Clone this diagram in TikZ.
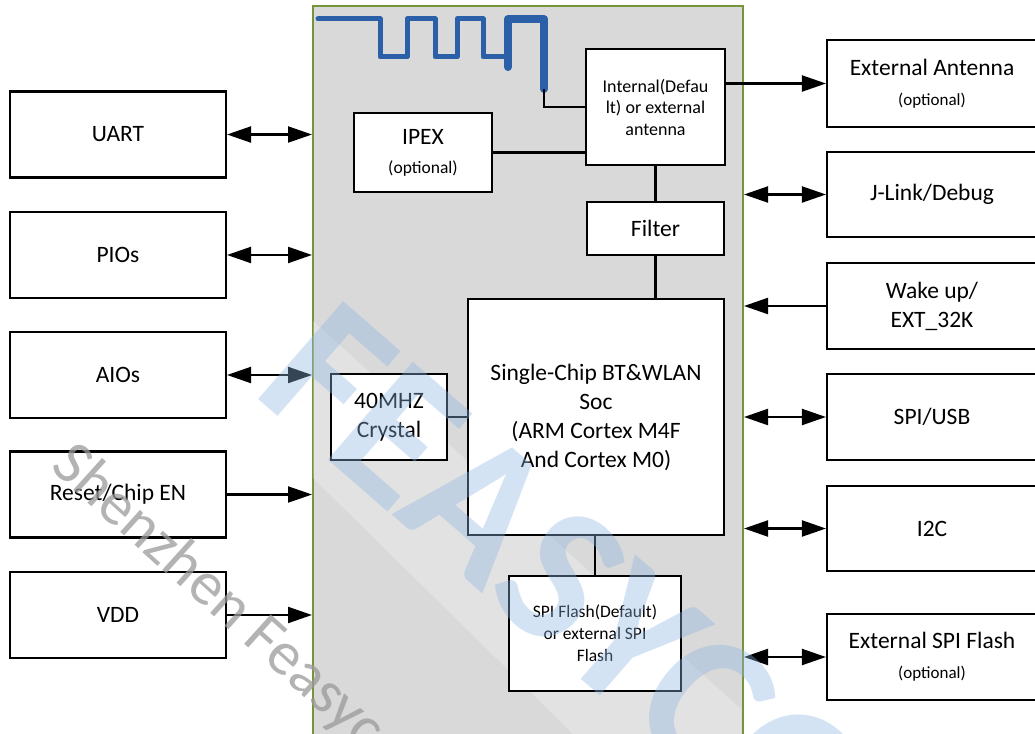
\documentclass[tikz,border=0pt]{standalone}
\usepackage{fontspec}
\setmainfont{Carlito}
\usetikzlibrary{arrows.meta}
\definecolor{modfill}{HTML}{D9D9D9}
\definecolor{modborder}{HTML}{77933C}
\definecolor{trace}{HTML}{2B5FA8}
\definecolor{wmblue}{HTML}{8DB6E0}
\definecolor{wmgray}{HTML}{9A9A9A}
\begin{document}
\begin{tikzpicture}[x=1pt,y=-1pt,
  box/.style={draw=black, line width=2.1pt, fill=white, align=center, inner sep=0pt,
    font=\fontsize{23.5}{29}\selectfont},
  conn/.style={line width=2.1pt},
  arr/.style={conn, -{Triangle[length=24pt,width=16pt]}},
  darr/.style={conn, {Triangle[length=24pt,width=16pt]}-{Triangle[length=24pt,width=16pt]}},
  tracethin/.style={draw=trace, line width=5pt, line cap=round, line join=round},
  tracethick/.style={draw=trace, line width=8pt, line cap=round, line join=round},
  wm/.style={inner sep=0pt}
]
\useasboundingbox (0,0) rectangle (1035,733);
\fill[white] (0,0) rectangle (1035,733);

% module
\node[draw=modborder, fill=modfill, line width=2pt, minimum width=430, minimum height=745,
  anchor=north west, inner sep=0pt] (mod) at (312,5) {};
\begin{scope}
  \clip (313,6) rectangle (741,740);
  \fill[white, opacity=0.25] (312,320) -- (742,710) -- (742,900) -- (312,477) -- cycle;
\end{scope}

% antenna trace
\draw[tracethin] (318,19) -- (380,19) -- (380,57) -- (407,57) -- (407,19) -- (435,19)
  -- (435,57) -- (457,57) -- (457,19) -- (483,19) -- (483,57) -- (508,57);
\draw[tracethick] (508,67) -- (508,19) -- (544,19) -- (544,89);
\coordinate (antend) at (544,89);

% left boxes
\node[box, minimum width=216, minimum height=86] (uart) at (118,134.5) {UART};
\node[box, minimum width=216, minimum height=86] (pio) at (118,255) {PIOs};
\node[box, minimum width=216, minimum height=86] (aio) at (118,375) {AIOs};
\node[box, minimum width=216, minimum height=86] (rst) at (118,494.5) {Reset/Chip EN};
\node[box, minimum width=216, minimum height=86] (vdd) at (118,615) {VDD};

% right boxes
\node[box, minimum width=210, minimum height=87] (extant) at (932,83.5)
  {External Antenna\\[1pt]{\fontsize{17}{20}\selectfont (optional)}};
\node[box, minimum width=210, minimum height=85] (jlink) at (932,194.5) {J-Link/Debug};
\node[box, minimum width=210, minimum height=86] (wake) at (932,306) {Wake up/\\EXT\_32K};
\node[box, minimum width=210, minimum height=86] (spiusb) at (932,417) {SPI/USB};
\node[box, minimum width=210, minimum height=85] (i2c) at (932,528.5) {I2C};
\node[box, minimum width=210, minimum height=86] (extspi) at (932,657)
  {External SPI Flash\\[1pt]{\fontsize{17}{20}\selectfont (optional)}};

% internal boxes
\node[box, font=\fontsize{18}{21.5}\selectfont, minimum width=139, minimum height=116] (ant) at (655.5,107)
  {Internal(Defau\\lt) or external\\antenna};
\node[box, minimum width=138, minimum height=79] (ipex) at (423,152.5)
  {IPEX\\[0pt]{\fontsize{17.5}{20}\selectfont (optional)}};
\node[box, minimum width=137, minimum height=53] (filter) at (655.5,228.5) {Filter};
\node[box, minimum width=256, minimum height=236] (soc) at (596,417)
  {Single-Chip BT\&WLAN\\Soc\\(ARM Cortex M4F\\And Cortex M0)};
\node[box, minimum width=116, minimum height=86] (xtal) at (389,417) {40MHZ\\Crystal};
\node[box, font=\fontsize{17.5}{22}\selectfont, minimum width=172, minimum height=115] (flash) at (595,633.5)
  {SPI Flash(Default)\\or external SPI\\Flash};

% internal connections
\draw[conn] (antend) |- (ant.west);
\draw[conn] (ipex.east) -- (ipex.east -| ant.west);
\draw[conn] (ant.south) -- (filter.north);
\draw[conn] (filter.south) -- (filter.south |- soc.north);
\draw[conn] (xtal.east) -- (soc.west);
\draw[conn] (soc.south -| flash.north) -- (flash.north);

% left connectors
\draw[darr] (uart.east) -- (uart.east -| mod.west);
\draw[darr] (pio.east) -- (pio.east -| mod.west);
\draw[darr] (aio.east) -- (aio.east -| mod.west);
\draw[arr] (rst.east) -- (rst.east -| mod.west);
\draw[arr] (vdd.east) -- (vdd.east -| mod.west);

% right connectors
\draw[arr] (extant.west -| ant.east) -- (extant.west);
\draw[darr] (jlink.west -| mod.east) -- (jlink.west);
\draw[arr] (wake.west) -- (wake.west -| mod.east);
\draw[darr] (spiusb.west -| mod.east) -- (spiusb.west);
\draw[darr] (i2c.west -| mod.east) -- (i2c.west);
\draw[darr] (extspi.west -| mod.east) -- (extspi.west);

% watermarks
\node[wm, text=wmblue, opacity=0.38, rotate=-41, anchor=base west,
  font=\fontsize{200}{200}\bfseries] (wmfeasy) at (250,392) {FEASYCOM};
\node[wm, text=wmgray, opacity=0.75, rotate=-42, anchor=north west,
  font=\fontsize{62}{62}\selectfont] (wmshen) at (78,436) {Shenzhen Feasycom};
\end{tikzpicture}
\end{document}
